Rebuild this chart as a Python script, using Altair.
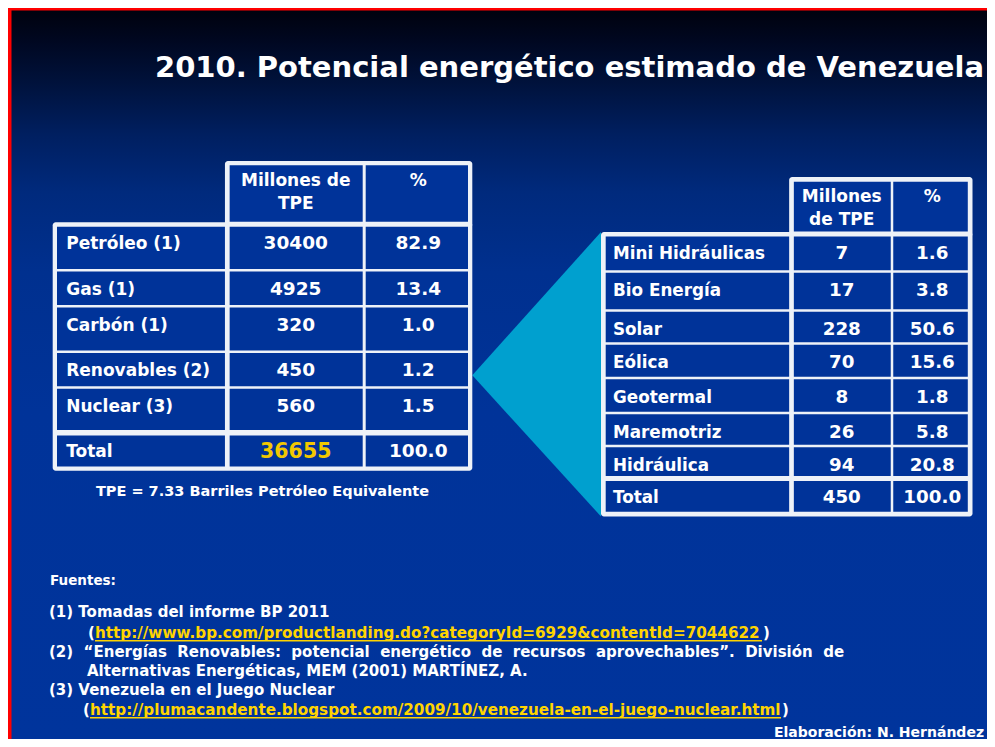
import altair as alt
import pandas as pd

# ---------------- data ----------------
title_text = "2010. Potencial energético estimado de Venezuela"

left_header_value = ["Millones de", "TPE"]
left_header_pct = ["%"]
left_labels = ["Petróleo (1)", "Gas (1)", "Carbón (1)", "Renovables (2)", "Nuclear (3)", "Total"]
left_mtpe = [30400, 4925, 320, 450, 560, 36655]
left_pct = [82.9, 13.4, 1.0, 1.2, 1.5, 100.0]

right_header_value = ["Millones", "de TPE"]
right_header_pct = ["%"]
right_labels = ["Mini Hidráulicas", "Bio Energía", "Solar", "Eólica", "Geotermal",
                "Maremotriz", "Hidráulica", "Total"]
right_mtpe = [7, 17, 228, 70, 8, 26, 94, 450]
right_pct = [1.6, 3.8, 50.6, 15.6, 1.8, 5.8, 20.8, 100.0]

tpe_note = "TPE = 7.33 Barriles Petróleo Equivalente"
sources_title = "Fuentes:"
source_text_lines = [
    "(1) Tomadas del informe BP 2011",
    "(2) \u201cEnergías Renovables: potencial energético de recursos aprovechables\u201d. División de",
    "Alternativas Energéticas, MEM (2001) MARTÍNEZ, A.",
    "(3) Venezuela en el Juego Nuclear",
]
source_urls = [
    "http://www.bp.com/productlanding.do?categoryId=6929&contentId=7044622",
    "http://plumacandente.blogspot.com/2009/10/venezuela-en-el-juego-nuclear.html",
]
credit = "Elaboración: N. Hernández"

# ---------------- layout (page pixels) ----------------
W, H = 979, 731
OFF = 8
FONT = "DejaVu Sans"
WHITE = "#ffffff"
YELLOW = "#ffd400"
GOLD = "#f2c800"
CELL = "#003399"
FRAME = "#eef2f8"
CYAN = "#00a0cf"

LEFT = dict(cols=[52.7, 227.3, 364.2, 472.3],
            rows=[161, 224.2, 270.3, 306.2, 351.7, 387.5, 432.8, 470.7],
            col_gaps=[4.7, 3.0], big_rows={1: 5.0, 6: 5.5}, gap=2.6, outer=4.3,
            label_pad=13.5, label_fs=17, num_fs=18.5, head_fs=17)
RIGHT = dict(cols=[601, 791.5, 892, 972.5],
             rows=[177, 234, 271.5, 310.5, 343.5, 378, 413, 446, 478.5, 516.5],
             col_gaps=[4.7, 2.5], big_rows={1: 5.0, 8: 5.0}, gap=2.5, outer=4.7,
             label_pad=12, label_fs=16.8, num_fs=18.3, head_fs=17)

XS = alt.Scale(domain=[0, W], range=[0, W], nice=False, zero=False)
YS = alt.Scale(domain=[0, H], range=[0, H], nice=False, zero=False)


def p(v):
    return v - OFF


def justify(s, extra):
    # widen word gaps (non-collapsing spaces) to mimic the justified line
    return s.replace(" ", " " + "\u00a0" * extra)


def rect_layer(rows, color, **kw):
    df = pd.DataFrame(rows)
    return alt.Chart(df).mark_rect(color=color, **kw).encode(
        x=alt.X("x:Q", scale=XS, axis=None), x2="x2:Q",
        y=alt.Y("y:Q", scale=YS, axis=None), y2="y2:Q")


def text_layer(rows, align):
    df = pd.DataFrame(rows)
    return alt.Chart(df).mark_text(align=align, baseline="alphabetic", font=FONT,
                                   fontWeight="bold").encode(
        x=alt.X("x:Q", scale=XS, axis=None),
        y=alt.Y("y:Q", scale=YS, axis=None),
        text="text:N",
        size=alt.Size("fs:Q", scale=None, legend=None),
        color=alt.Color("col:N", scale=None, legend=None))


def table_geometry(T):
    cols, rows = T["cols"], T["rows"]
    def rgap(i):
        return T["big_rows"].get(i, T["gap"])
    last = len(rows) - 2
    frames = [
        dict(x=p(cols[1] - T["col_gaps"][0] / 2), x2=p(cols[3]), y=p(rows[0]), y2=p(rows[1] + 3)),
        dict(x=p(cols[0]), x2=p(cols[3]), y=p(rows[1] - 2), y2=p(rows[-1])),
    ]
    cells = []
    for r in range(len(rows) - 1):
        for c in range(3):
            if r == 0 and c == 0:
                continue
            x0 = cols[c] + (T["outer"] if c == 0 else T["col_gaps"][c - 1] / 2)
            x1 = cols[c + 1] - (T["outer"] if c == 2 else T["col_gaps"][c] / 2)
            y0 = rows[r] + (T["outer"] if r == 0 else rgap(r) / 2)
            y1 = rows[r + 1] - (T["outer"] if r == last else rgap(r + 1) / 2)
            cells.append(dict(x=p(x0), x2=p(x1), y=p(y0), y2=p(y1)))
    return frames, cells


def table_texts(T, labels, mtpe, pct, head_val, head_pct, total_gold):
    cols, rows = T["cols"], T["rows"]
    xv = (cols[1] + cols[2]) / 2
    xp = (cols[2] + cols[3]) / 2
    left_t, center_t = [], []
    for k, line in enumerate(head_val):
        center_t.append(dict(x=p(xv), y=p(rows[0] + 25 + 23 * k), text=line, fs=T["head_fs"], col=WHITE))
    for k, line in enumerate(head_pct):
        center_t.append(dict(x=p(xp), y=p(rows[0] + 25 + 23 * k), text=line, fs=T["head_fs"], col=WHITE))
    n = len(labels)
    for i in range(n):
        yb = p(rows[i + 1] + 24.5)
        left_t.append(dict(x=p(cols[0] + T["label_pad"]), y=yb, text=labels[i], fs=T["label_fs"], col=WHITE))
        is_total = i == n - 1
        if is_total and total_gold:
            center_t.append(dict(x=p(xv), y=yb + 1, text=str(mtpe[i]), fs=20.5, col=GOLD))
        else:
            center_t.append(dict(x=p(xv), y=yb, text=str(mtpe[i]), fs=T["num_fs"], col=WHITE))
        center_t.append(dict(x=p(xp), y=yb, text=f"{pct[i]:.1f}", fs=T["num_fs"], col=WHITE))
    return left_t, center_t


# ---------------- background ----------------
border = rect_layer([dict(x=0, x2=W, y=0, y2=H)], "#ff0000")
bg_grad = alt.Gradient(
    gradient="linear", x1=0, x2=0, y1=0, y2=1,
    stops=[alt.GradientStop(offset=0.0, color="#00020e"),
           alt.GradientStop(offset=0.04, color="#000720"),
           alt.GradientStop(offset=0.10, color="#00123c"),
           alt.GradientStop(offset=0.17, color="#001f60"),
           alt.GradientStop(offset=0.25, color="#002a7d"),
           alt.GradientStop(offset=0.36, color="#00308f"),
           alt.GradientStop(offset=0.55, color="#003399"),
           alt.GradientStop(offset=1.0, color="#00349c")])
background = alt.Chart(pd.DataFrame([dict(x=3.5, x2=W, y=2.5, y2=H)])).mark_rect(fill=bg_grad).encode(
    x=alt.X("x:Q", scale=XS, axis=None), x2="x2:Q",
    y=alt.Y("y:Q", scale=YS, axis=None), y2="y2:Q")

# connector triangle between the two tables
apex_y = (RIGHT["rows"][1] + RIGHT["rows"][-1]) / 2
tri_df = pd.DataFrame([
    dict(x=p(LEFT["cols"][3]), y=p(apex_y), y2=p(apex_y)),
    dict(x=p(RIGHT["cols"][0]), y=p(RIGHT["rows"][1] - 2), y2=p(RIGHT["rows"][-1])),
])
triangle = alt.Chart(tri_df).mark_area(color=CYAN, interpolate="linear").encode(
    x=alt.X("x:Q", scale=XS, axis=None),
    y=alt.Y("y:Q", scale=YS, axis=None), y2="y2:Q")

# ---------------- tables ----------------
lf, lc = table_geometry(LEFT)
rf, rc = table_geometry(RIGHT)
frames = rect_layer(lf + rf, FRAME, cornerRadius=3)
cells = rect_layer(lc + rc, CELL)

ll, lcen = table_texts(LEFT, left_labels, left_mtpe, left_pct, left_header_value, left_header_pct, True)
rl, rcen = table_texts(RIGHT, right_labels, right_mtpe, right_pct, right_header_value, right_header_pct, False)

# ---------------- other texts ----------------
left_texts = ll + rl
center_texts = lcen + rcen
center_texts.append(dict(x=p((LEFT["cols"][0] + LEFT["cols"][3]) / 2), y=p(496), text=tpe_note, fs=14.5, col=WHITE))

left_texts.append(dict(x=p(155), y=p(77), text=title_text, fs=29, col=WHITE))
left_texts.append(dict(x=p(50), y=p(585), text=sources_title, fs=13.5, col=WHITE))
note_x = [49, 49, 87, 49]
note_y = [617, 657, 676, 695]
note_extra = [0, 1, 0, 0]
for t, xx, yy, ex in zip(source_text_lines, note_x, note_y, note_extra):
    left_texts.append(dict(x=p(xx), y=p(yy), text=justify(t, ex) if ex else t, fs=15, col=WHITE))

url_start = [95, 90]
url_end = [762, 781]
url_y = [638, 715]
underline_rows = []
for u, xs_, xe, yy in zip(source_urls, url_start, url_end, url_y):
    left_texts.append(dict(x=p(xs_ - 7), y=p(yy), text="(", fs=15, col=WHITE))
    left_texts.append(dict(x=p(xs_), y=p(yy), text=u, fs=15.2, col=YELLOW))
    left_texts.append(dict(x=p(xe + 1), y=p(yy), text=")", fs=15, col=WHITE))
    underline_rows.append(dict(x=p(xs_), x2=p(xe), y=p(yy + 2), y2=p(yy + 3.5)))
left_texts.append(dict(x=p(774), y=p(737), text=credit, fs=14, col=WHITE))

underlines = rect_layer(underline_rows, YELLOW)

chart = alt.layer(
    border, background, triangle, frames, cells, underlines,
    text_layer(left_texts, "left"), text_layer(center_texts, "center"),
).properties(
    width=W, height=H, padding=0, autosize="none", background="white"
).configure_view(stroke=None)

chart.save("out.html", embed_options={"renderer": "svg", "actions": False})
